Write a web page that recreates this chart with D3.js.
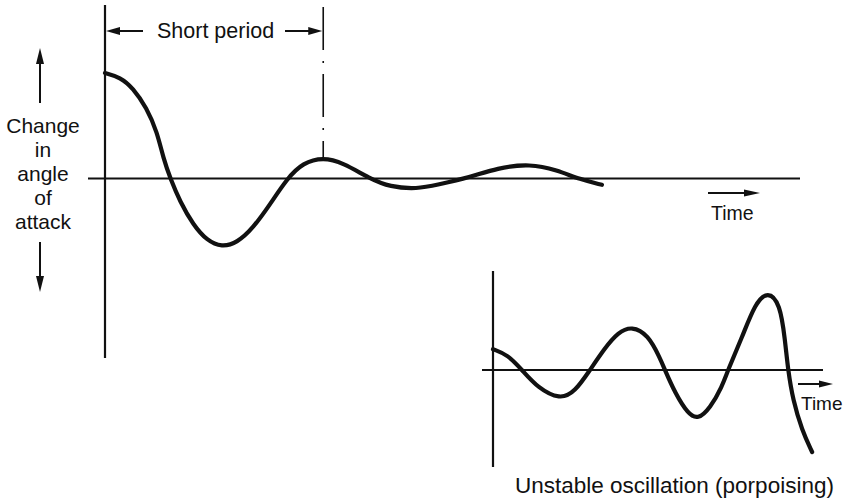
<!DOCTYPE html>
<html>
<head>
<meta charset="utf-8">
<script src="https://cdn.jsdelivr.net/npm/d3@7"></script>
<style>
  html, body { margin: 0; padding: 0; background: #fff; }
  svg { display: block; }
  text { font-family: "Liberation Sans", Arial, Helvetica, sans-serif; fill: #111; }
</style>
</head>
<body>
<svg id="chart" width="849" height="502"></svg>
<script>
// ---------- DATA ----------
// Damped (stable) short-period oscillation: time vs change in angle of attack
const stableTime  = [0, 0.22, 0.40, 0.60, 0.75, 0.84, 0.94, 1.08, 1.27, 1.47, 1.68, 1.90, 2.13, 2.37, 2.62, 2.85, 3.14, 3.42, 3.81, 4.10, 4.49, 4.78, 5.25, 5.64, 6.12, 6.50, 6.84, 7.15];
const stableValue = [1.00, 0.96, 0.86, 0.67, 0.44, 0.19, 0.00, -0.22, -0.44, -0.59, -0.65, -0.61, -0.47, -0.25, 0.00, 0.15, 0.20, 0.15, 0.00, -0.08, -0.10, -0.06, 0.01, 0.10, 0.14, 0.08, -0.01, -0.06];
const shortPeriodEnd = 3.14; // time of first positive peak

// Unstable oscillation (porpoising)
const unstableTime  = [0, 0.45, 0.88, 1.36, 2.03, 2.48, 2.94, 3.39, 3.79, 4.21, 4.70, 5.06, 5.21, 5.52, 5.91, 6.21, 6.58, 6.94, 7.12, 7.55, 7.94, 8.33, 8.70, 8.85, 8.94, 9.09, 9.36, 9.67];
const unstableValue = [0.26, 0.19, 0.00, -0.225, -0.37, -0.275, 0.00, 0.275, 0.47, 0.55, 0.44, 0.15, 0.00, -0.29, -0.55, -0.62, -0.475, -0.21, 0.00, 0.41, 0.83, 0.99, 0.83, 0.375, 0.00, -0.375, -0.75, -1.025];

const labels = {
  shortPeriod: "Short period",
  yLabel: ["Change", "in", "angle", "of", "attack"],
  time: "Time",
  unstable: "Unstable oscillation (porpoising)"
};

// ---------- SCALES ----------
const svg = d3.select("#chart");
const ink = "#111";

const x1 = d3.scaleLinear().domain([0, 10]).range([105, 800]);
const y1 = d3.scaleLinear().domain([-1, 1]).range([284, 73]);

const x2 = d3.scaleLinear().domain([0, 10]).range([493, 823]);
const y2 = d3.scaleLinear().domain([-1, 1]).range([450, 290]);

// arrow helper: filled triangular head
function arrow(g, xa, ya, xb, yb, headLen, headHalf, sw) {
  const dx = xb - xa, dy = yb - ya, L = Math.hypot(dx, dy);
  const ux = dx / L, uy = dy / L;
  const bx = xb - ux * headLen, by = yb - uy * headLen;
  g.append("line").attr("x1", xa).attr("y1", ya).attr("x2", bx + ux * 2).attr("y2", by + uy * 2)
    .attr("stroke", ink).attr("stroke-width", sw);
  g.append("path")
    .attr("d", `M${xb},${yb} L${bx - uy * headHalf},${by + ux * headHalf} L${bx + uy * headHalf},${by - ux * headHalf} Z`)
    .attr("fill", ink);
}

const line1 = d3.line().x((d, i) => x1(stableTime[i])).y((d) => y1(d)).curve(d3.curveBasis);
const line2 = d3.line().x((d, i) => x2(unstableTime[i])).y((d) => y2(d)).curve(d3.curveBasis);

// ---------- MAIN PANEL ----------
const g1 = svg.append("g");
// vertical axis
g1.append("line").attr("x1", x1(0)).attr("x2", x1(0)).attr("y1", 5).attr("y2", 358)
  .attr("stroke", ink).attr("stroke-width", 2.2);
// horizontal axis
g1.append("line").attr("x1", x1(0) - 17).attr("x2", x1.range()[1]).attr("y1", y1(0)).attr("y2", y1(0))
  .attr("stroke", ink).attr("stroke-width", 2.2);

// short-period dash-dot marker
const xsp = x1(shortPeriodEnd);
g1.append("line").attr("x1", xsp).attr("x2", xsp).attr("y1", 7).attr("y2", y1(0.19))
  .attr("stroke", ink).attr("stroke-width", 1.6).attr("stroke-dasharray", "43,11,2,11");

// curve
g1.append("path").attr("d", line1(stableValue)).attr("fill", "none")
  .attr("stroke", ink).attr("stroke-width", 4.2).attr("stroke-linecap", "round").attr("stroke-linejoin", "round");

// short period arrows & label
arrow(g1, 143, 31, x1(0) + 1, 31, 14, 4, 2);
arrow(g1, 285, 31, xsp - 1, 31, 14, 4, 2);
g1.append("text").attr("x", 157).attr("y", 38).attr("font-size", 21.5).text(labels.shortPeriod);

// y label with arrows
const yl = g1.append("text").attr("x", 43).attr("y", 133).attr("font-size", 21).attr("text-anchor", "middle");
labels.yLabel.forEach((t, i) => {
  yl.append("tspan").attr("x", 43).attr("y", 133 + i * 24).text(t);
});
arrow(g1, 40, 103, 40, 48, 16, 4, 2);
arrow(g1, 40, 242, 40, 292, 16, 4, 2);

// time arrow + label
arrow(g1, 708, 193, 760, 193, 16, 3.5, 2);
g1.append("text").attr("x", 711).attr("y", 220).attr("font-size", 19.5).text(labels.time);

// ---------- UNSTABLE PANEL ----------
const g2 = svg.append("g");
g2.append("line").attr("x1", x2(0)).attr("x2", x2(0)).attr("y1", 271).attr("y2", 467)
  .attr("stroke", ink).attr("stroke-width", 2.2);
g2.append("line").attr("x1", x2(0) - 11).attr("x2", x2.range()[1]).attr("y1", y2(0)).attr("y2", y2(0))
  .attr("stroke", ink).attr("stroke-width", 1.8);

g2.append("path").attr("d", line2(unstableValue)).attr("fill", "none")
  .attr("stroke", ink).attr("stroke-width", 4.2).attr("stroke-linecap", "round").attr("stroke-linejoin", "round");

arrow(g2, 798, 384, 833, 384, 14, 3.5, 2);
g2.append("text").attr("x", 801).attr("y", 410).attr("font-size", 19).text(labels.time);

g2.append("text").attr("x", 515).attr("y", 493).attr("font-size", 22.5).text(labels.unstable);
</script>
</body>
</html>
